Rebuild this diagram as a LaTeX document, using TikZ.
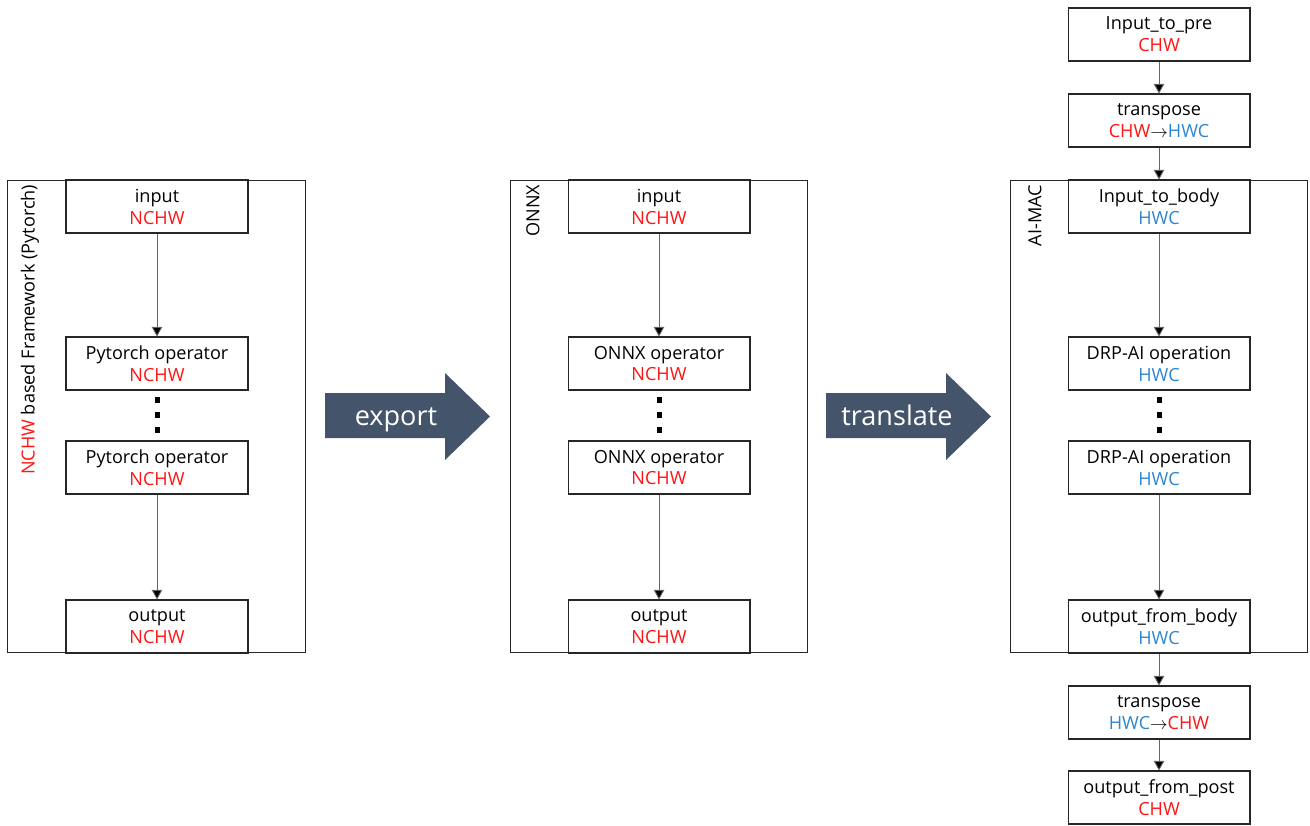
\documentclass[tikz,border=0pt]{standalone}
\usepackage{fontspec}
\setmainfont{Open Sans}
\usetikzlibrary{arrows.meta,positioning}
\definecolor{nred}{RGB}{255,20,20}
\definecolor{nblue}{RGB}{46,134,210}
\definecolor{slate}{RGB}{68,84,106}
\tikzset{
	box/.style={draw=black!85, line width=0.6pt, fill=white, minimum width=3.64cm, minimum height=1.06cm, align=center, inner sep=0pt, font=\fontsize{10.3}{12.5}\selectfont},
	frame/.style={draw=black!85, line width=0.6pt, minimum width=5.95cm, minimum height=9.46cm, inner sep=0pt},
	flow/.style={draw=black!60, line width=0.5pt, -{Triangle[length=5.5pt,width=6pt,fill=black]}},
	side/.style={rotate=90, anchor=east, inner sep=2pt, font=\fontsize{10.3}{12}\selectfont},
	dot/.style={fill=black, minimum width=0.1cm, minimum height=0.12cm, inner sep=0pt},
	bigtext/.style={text=white, anchor=base, font=\fontsize{15.4}{18}\selectfont}
}
\begin{document}
\begin{tikzpicture}[x=0.02cm,y=-0.02cm]
	\useasboundingbox (0,0) rectangle (1310,825);
	% Frames.
	\node[frame] (fwpt) at (156.5,416.5) {};
	\node[frame] (fwonnx) at (659,416.5) {};
	\node[frame] (fwmac) at (1159,416.5) {};
	\node[side] (lblpt) at (30,181) {\textcolor{nred}{NCHW} based Framework (Pytorch)};
	\node[side] (lblonnx) at (533,181) {ONNX};
	\node[side] (lblmac) at (1035,181) {AI-MAC};

	% Pytorch.
	\node[box] (ptin) at (157,206.5) {input\\\textcolor{nred}{NCHW}};
	\node[box] (ptop1) at (157,363.5) {Pytorch operator\\\textcolor{nred}{NCHW}};
	\node[box] (ptop2) at (157,467.5) {Pytorch operator\\\textcolor{nred}{NCHW}};
	\node[box] (ptout) at (157,626.5) {output\\\textcolor{nred}{NCHW}};
	\draw[flow] (ptin) -- (ptop1);
	\draw[flow] (ptop2) -- (ptout);
	\foreach \y in {400,415,430}
		\node[dot] at (157,\y) {};

	% ONNX.
	\node[box] (oxin) at (659,206.5) {input\\\textcolor{nred}{NCHW}};
	\node[box] (oxop1) at (659,363.5) {ONNX operator\\\textcolor{nred}{NCHW}};
	\node[box] (oxop2) at (659,467.5) {ONNX operator\\\textcolor{nred}{NCHW}};
	\node[box] (oxout) at (659,626.5) {output\\\textcolor{nred}{NCHW}};
	\draw[flow] (oxin) -- (oxop1);
	\draw[flow] (oxop2) -- (oxout);
	\foreach \y in {400,415,430}
		\node[dot] at (659,\y) {};

	% AI-MAC.
	\node[box] (pre) at (1159,34.5) {Input\_to\_pre\\\textcolor{nred}{CHW}};
	\node[box] (tpin) at (1159,120.5) {transpose\\\textcolor{nred}{CHW}$\rightarrow$\textcolor{nblue}{HWC}};
	\node[box] (body) at (1159,206.5) {Input\_to\_body\\\textcolor{nblue}{HWC}};
	\node[box] (drp1) at (1159,363.5) {DRP-AI operation\\\textcolor{nblue}{HWC}};
	\node[box] (drp2) at (1159,467.5) {DRP-AI operation\\\textcolor{nblue}{HWC}};
	\node[box] (bodyout) at (1159,626.5) {output\_from\_body\\\textcolor{nblue}{HWC}};
	\node[box] (tpout) at (1159,712.5) {transpose\\\textcolor{nblue}{HWC}$\rightarrow$\textcolor{nred}{CHW}};
	\node[box] (post) at (1159,797.5) {output\_from\_post\\\textcolor{nred}{CHW}};
	\draw[flow] (pre) -- (tpin);
	\draw[flow] (tpin) -- (body);
	\draw[flow] (body) -- (drp1);
	\draw[flow] (drp2) -- (bodyout);
	\draw[flow] (bodyout) -- (tpout);
	\draw[flow] (tpout) -- (post);
	\foreach \y in {400,415,430}
		\node[dot] at (1159,\y) {};

	% Big arrows.
	\fill[slate] (325,393) -- (445,393) -- (445,373) -- (490,416.5) -- (445,460) -- (445,438) -- (325,438) -- cycle;
	\node[bigtext] (export) at (396,425) {export};
	\fill[slate] (826,393) -- (946,393) -- (946,373) -- (991,416.5) -- (946,460) -- (946,438) -- (826,438) -- cycle;
	\node[bigtext] (translate) at (897,425) {translate};
\end{tikzpicture}
\end{document}
